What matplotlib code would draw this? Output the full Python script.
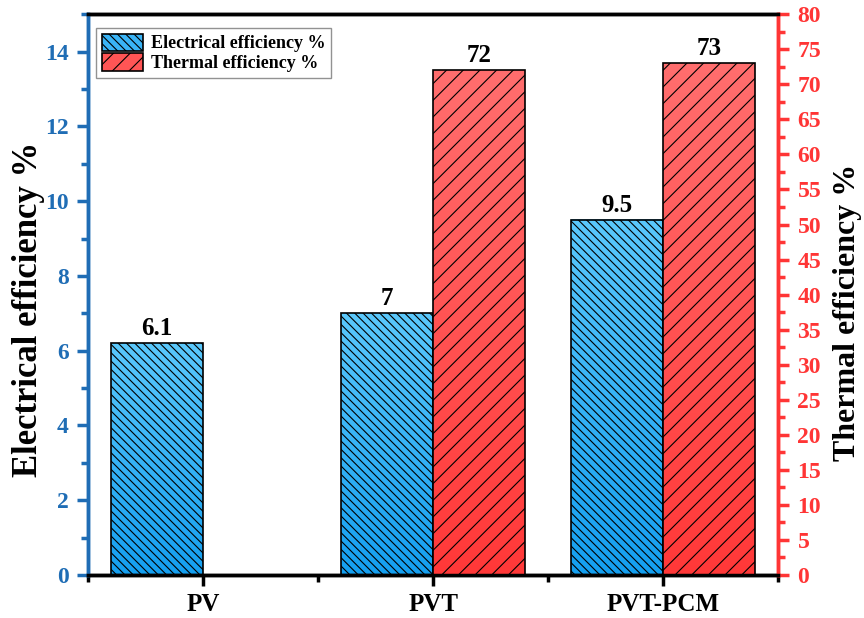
import matplotlib.pyplot as plt
import numpy as np
from matplotlib.colors import LinearSegmentedColormap
from matplotlib.ticker import MultipleLocator

categories = ["PV", "PVT", "PVT-PCM"]
electrical = [6.2, 7.0, 9.5]
electrical_labels = ["6.1", "7", "9.5"]
thermal = [np.nan, 72, 73]
thermal_labels = ["", "72", "73"]

BLUE_AX = "#1f6db5"
RED_AX = "#ff3535"
blue_grad = LinearSegmentedColormap.from_list("b", ["#149ff0", "#5ac8fc"])
red_grad = LinearSegmentedColormap.from_list("r", ["#ff3838", "#ff6e6e"])

plt.rcParams["font.family"] = "Liberation Serif"
plt.rcParams["font.weight"] = "bold"
plt.rcParams["hatch.linewidth"] = 0.8
plt.rcParams["hatch.color"] = "#1a1a1a"

fig = plt.figure(figsize=(8.64, 6.18), dpi=100)
ax = fig.add_axes([0.102, 0.0696, 0.7985, 0.9074])
ax2 = ax.twinx()

x = np.arange(len(categories))
w = 0.4


def gradient_bars(axis, xs, heights, cmap, hatch):
    bars = axis.bar(xs, heights, width=w, facecolor="none", edgecolor="black",
                    linewidth=1.2, hatch=hatch, zorder=3)
    grad = np.linspace(0, 1, 256).reshape(-1, 1)
    for b in bars:
        h = b.get_height()
        if not np.isfinite(h):
            continue
        x0 = b.get_x()
        axis.imshow(grad, extent=[x0, x0 + w, 0, h], origin="lower", cmap=cmap,
                    aspect="auto", zorder=2)
    return bars


eb = gradient_bars(ax, x - w / 2, electrical, blue_grad, "\\\\\\\\")
tb = gradient_bars(ax2, x + w / 2, thermal, red_grad, "//")

for xi, v, lab in zip(x - w / 2, electrical, electrical_labels):
    ax.text(xi, v + 0.08, lab, ha="center", va="bottom", fontsize=18, fontweight="bold")
for xi, v, lab in zip(x + w / 2, thermal, thermal_labels):
    if lab:
        ax2.text(xi, v + 0.5, lab, ha="center", va="bottom", fontsize=18, fontweight="bold")

ax.set_xlim(-0.5, 2.5)
ax.set_ylim(0, 15)
ax2.set_ylim(0, 80)

ax.set_xticks(x)
ax.set_xticklabels(categories, fontsize=18, fontweight="bold")
ax.xaxis.set_minor_locator(MultipleLocator(0.5))
ax.set_yticks(np.arange(0, 15, 2))
ax.yaxis.set_minor_locator(MultipleLocator(1))
ax2.yaxis.set_major_locator(MultipleLocator(5))
ax2.yaxis.set_minor_locator(MultipleLocator(2.5))

ax.tick_params(axis="x", which="major", length=8, width=2.5, pad=5, color="black")
ax.tick_params(axis="x", which="minor", length=5, width=2.5, color="black")
ax.tick_params(axis="y", which="major", length=8, width=2.5, pad=6, colors=BLUE_AX, labelsize=17)
ax.tick_params(axis="y", which="minor", length=5, width=2.5, color=BLUE_AX)
ax2.tick_params(axis="y", which="major", length=8, width=2.5, pad=6, colors=RED_AX, labelsize=17)
ax2.tick_params(axis="y", which="minor", length=5, width=2.5, color=RED_AX)
for t in ax.get_yticklabels() + ax2.get_yticklabels():
    t.set_fontweight("bold")

for a in (ax, ax2):
    a.spines["top"].set_linewidth(2.5)
    a.spines["bottom"].set_linewidth(2.5)
    a.spines["left"].set_color(BLUE_AX)
    a.spines["left"].set_linewidth(2.5)
    a.spines["right"].set_color(RED_AX)
    a.spines["right"].set_linewidth(2.5)

ax.set_ylabel("Electrical efficiency %", fontsize=25, fontweight="bold")
ax.yaxis.set_label_coords(-0.062, 0.474)
ax2.set_ylabel("Thermal efficiency %", fontsize=23, fontweight="bold")
ax2.yaxis.set_label_coords(1.079, 0.469)

leg = ax2.legend([eb, tb], ["Electrical efficiency %", "Thermal efficiency %"],
                 loc="upper left", bbox_to_anchor=(0.012, 0.975), fancybox=False,
                 edgecolor="#777777", fontsize=13, handlelength=2.3, handleheight=1.1,
                 borderpad=0.3, labelspacing=0.05, handletextpad=0.4, borderaxespad=0)
leg.get_frame().set_linewidth(1.0)
for h, c in zip(leg.legend_handles, ["#3ab4f6", "#ff5555"]):
    h.set_facecolor(c)

fig.savefig("out.png", dpi=100)
